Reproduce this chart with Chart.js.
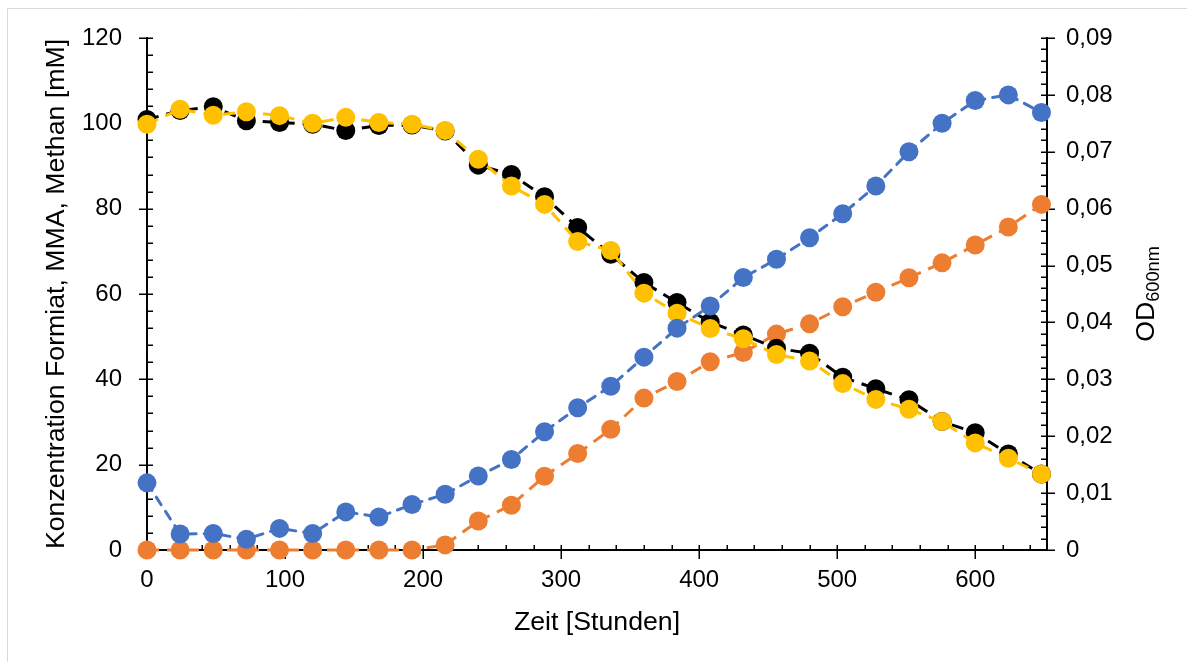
<!DOCTYPE html>
<html>
<head>
<meta charset="utf-8">
<script src="https://cdn.jsdelivr.net/npm/chart.js@4.4.1/dist/chart.umd.min.js"></script>
<style>
  html, body { margin: 0; padding: 0; background: #fff; }
  canvas { display: block; }
</style>
</head>
<body>
<canvas id="c" width="1187" height="662"></canvas>
<script>
// Sampling times [h]
const hours = [0, 24, 48, 72, 96, 120, 144, 168, 192, 216, 240, 264, 288, 312,
               336, 360, 384, 408, 432, 456, 480, 504, 528, 552, 576, 600, 624, 648];

// Concentrations [mM]
const formiat = [100.9, 103.0, 103.9, 100.6, 100.2, 99.8, 98.3, 99.5, 99.6, 98.2,
                 90.2, 88.0, 82.8, 75.6, 69.3, 62.7, 58.0, 53.4, 50.4, 47.3,
                 46.1, 40.5, 37.8, 35.2, 30.1, 27.5, 22.5, 17.8];
const mma     = [99.8, 103.3, 101.9, 102.7, 101.8, 100.0, 101.4, 100.2, 99.8, 98.3,
                 91.6, 85.3, 81.0, 72.3, 70.2, 60.2, 55.5, 51.9, 49.5, 45.8,
                 44.3, 39.0, 35.3, 33.0, 30.1, 25.1, 21.5, 17.8];
const methan  = [0, 0, 0, 0, 0, 0, 0, 0, 0, 1.2,
                 6.8, 10.5, 17.3, 22.6, 28.3, 35.6, 39.5, 44.1, 46.3, 50.6,
                 53.0, 57.0, 60.4, 63.8, 67.3, 71.5, 75.7, 81.0];

// Optical density
const od600   = [0.0118, 0.0028, 0.0029, 0.0019, 0.0038, 0.0029, 0.0067, 0.0058, 0.0080, 0.0098,
                 0.0130, 0.0159, 0.0208, 0.0250, 0.0288, 0.0339, 0.0390, 0.0429, 0.0479, 0.0511,
                 0.0549, 0.0591, 0.0640, 0.0700, 0.0750, 0.0790, 0.0800, 0.0769];

// Axis tick values
const xTicks  = [0, 100, 200, 300, 400, 500, 600];
const yTicks  = [0, 20, 40, 60, 80, 100, 120];
const odTicks = [0, 0.01, 0.02, 0.03, 0.04, 0.05, 0.06, 0.07, 0.08, 0.09];

const FONT = "'Liberation Sans', Arial, sans-serif";
const TICK_SIZE = 24;
const TITLE_SIZE = 26.7;

function points(values) {
  return hours.map((h, i) => ({ x: h, y: values[i] }));
}

function series(label, values, color, axis, order, dash, cap) {
  return {
    label,
    data: points(values),
    yAxisID: axis,
    order,
    borderColor: color,
    backgroundColor: color,
    pointBackgroundColor: color,
    pointBorderColor: color,
    pointBorderWidth: 0,
    pointRadius: 9.5,
    pointHoverRadius: 9.5,
    borderWidth: 3,
    borderDash: dash,
    borderCapStyle: cap,
    showLine: true,
    fill: false,
    tension: 0,
    clip: false
  };
}

function fixedTicks(values) {
  return scale => { scale.ticks = values.map(v => ({ value: v })); };
}

// White page with a thin frame along the top and left edge
const frame = {
  id: 'frame',
  beforeDraw(chart) {
    const ctx = chart.ctx;
    ctx.save();
    ctx.fillStyle = '#fff';
    ctx.fillRect(0, 0, chart.width, chart.height);
    ctx.strokeStyle = '#d9d9d9';
    ctx.lineWidth = 1;
    ctx.beginPath();
    ctx.moveTo(7.5, chart.height);
    ctx.lineTo(7.5, 8.5);
    ctx.lineTo(chart.width, 8.5);
    ctx.stroke();
    ctx.restore();
  }
};

// Major tick marks cross the axis line, minor ones point into the plot
const tickMarks = {
  id: 'tickMarks',
  beforeDatasetsDraw(chart) {
    const { ctx, chartArea: a } = chart;
    const sx = chart.scales.x, sy = chart.scales.y, so = chart.scales.y2;
    ctx.save();
    ctx.strokeStyle = '#000';
    ctx.lineWidth = 1.5;
    const seg = (x1, y1, x2, y2) => {
      ctx.beginPath(); ctx.moveTo(x1, y1); ctx.lineTo(x2, y2); ctx.stroke();
    };
    for (let v = 0; v <= sx.max + 1e-9; v += 20) {
      const px = Math.round(sx.getPixelForValue(v)) + 0.25;
      if (v % 100 === 0) seg(px, a.bottom - 5, px, a.bottom + 9);
      else seg(px, a.bottom - 5, px, a.bottom);
    }
    for (let v = 0; v <= sy.max + 1e-9; v += 4) {
      const py = Math.round(sy.getPixelForValue(v)) + 0.25;
      if (v % 20 === 0) seg(a.left - 8, py, a.left + 6, py);
      else seg(a.left, py, a.left + 6, py);
    }
    for (let k = 0; k <= 45; k++) {
      const py = Math.round(so.getPixelForValue(k * 0.002)) + 0.25;
      if (k % 5 === 0) seg(a.right - 6, py, a.right + 8, py);
      else seg(a.right - 6, py, a.right, py);
    }
    ctx.restore();
  },
  afterDraw(chart) {
    // Right axis title with subscript, reading bottom to top
    const ctx = chart.ctx;
    const cy = (chart.chartArea.top + chart.chartArea.bottom) / 2;
    ctx.save();
    ctx.translate(1144, cy);
    ctx.rotate(-Math.PI / 2);
    ctx.fillStyle = '#000';
    const big = TITLE_SIZE + 'px ' + FONT;
    const small = (TITLE_SIZE * 0.68).toFixed(1) + 'px ' + FONT;
    ctx.font = big;
    const w1 = ctx.measureText('OD').width;
    ctx.font = small;
    const w2 = ctx.measureText('600nm').width;
    const x0 = -(w1 + w2) / 2;
    ctx.textBaseline = 'alphabetic';
    ctx.textAlign = 'left';
    ctx.font = big;
    ctx.fillText('OD', x0, TITLE_SIZE * 0.36);
    ctx.font = small;
    ctx.fillText('600nm', x0 + w1, TITLE_SIZE * 0.36 + 5);
    ctx.restore();
  }
};

const commaLabel = v => (v === 0 ? '0' : v.toFixed(2).replace('.', ','));

new Chart(document.getElementById('c'), {
  type: 'scatter',
  data: {
    datasets: [
      series('OD600nm', od600, '#4472c4', 'y2', 0, [9, 8], 'round'),
      series('MMA', mma, '#ffc000', 'y', 1, [12, 8], 'butt'),
      series('Formiat', formiat, '#000000', 'y', 2, [12, 8], 'butt'),
      series('Methan', methan, '#ed7d31', 'y', 3, [12, 8], 'butt')
    ]
  },
  options: {
    responsive: false,
    animation: false,
    devicePixelRatio: 1,
    layout: { padding: { top: 38, left: 0, right: 0, bottom: 0 } },
    plugins: { legend: { display: false }, tooltip: { enabled: false } },
    events: [],
    scales: {
      x: {
        type: 'linear',
        position: 'bottom',
        min: 0,
        max: 652,
        afterBuildTicks: fixedTicks(xTicks),
        afterFit(s) { s.height = 112; s.paddingLeft = 0; s.paddingRight = 0; },
        grid: { display: false, drawTicks: false, drawOnChartArea: false },
        border: { display: true, color: '#000', width: 2 },
        ticks: {
          color: '#000', padding: 16, maxRotation: 0, autoSkip: false,
          font: { family: FONT, size: TICK_SIZE },
          callback: v => String(v)
        },
        title: {
          display: true, text: 'Zeit [Stunden]', color: '#000',
          font: { family: FONT, size: TITLE_SIZE },
          padding: { top: 0, bottom: 23 }
        }
      },
      y: {
        type: 'linear',
        position: 'left',
        min: 0,
        max: 120,
        afterBuildTicks: fixedTicks(yTicks),
        afterFit(s) { s.width = 147; s.paddingTop = 0; s.paddingBottom = 0; },
        grid: { display: false, drawTicks: false, drawOnChartArea: false },
        border: { display: true, color: '#000', width: 2 },
        ticks: {
          color: '#000', padding: 25, autoSkip: false,
          font: { family: FONT, size: TICK_SIZE },
          callback: v => String(v)
        },
        title: {
          display: true, text: 'Konzentration Formiat, MMA, Methan [mM]', color: '#000',
          font: { family: FONT, size: TITLE_SIZE },
          padding: { top: 41, bottom: 0 }
        }
      },
      y2: {
        type: 'linear',
        position: 'right',
        min: 0,
        max: 0.09,
        afterBuildTicks: fixedTicks(odTicks),
        afterFit(s) { s.width = 140; s.paddingTop = 0; s.paddingBottom = 0; },
        grid: { display: false, drawTicks: false, drawOnChartArea: false },
        border: { display: true, color: '#000', width: 2 },
        ticks: {
          color: '#000', padding: 19, autoSkip: false,
          font: { family: FONT, size: TICK_SIZE },
          callback: commaLabel
        }
      }
    }
  },
  plugins: [frame, tickMarks]
});
</script>
</body>
</html>
